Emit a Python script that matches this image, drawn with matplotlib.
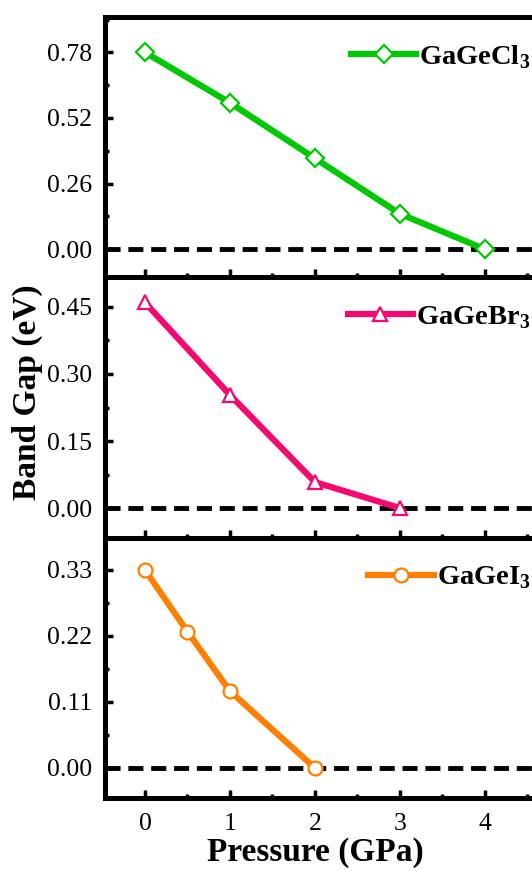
import matplotlib
matplotlib.use("Agg")
import matplotlib.pyplot as plt
from matplotlib.ticker import MultipleLocator, FixedLocator, FormatStrFormatter

# data
p_cl = [0, 1, 2, 3, 4]
gap_cl = [0.78, 0.58, 0.36, 0.14, 0.0]
p_br = [0, 1, 2, 3]
gap_br = [0.46, 0.253, 0.058, 0.0]
p_i = [0, 0.5, 1, 2]
gap_i = [0.33, 0.227, 0.128, 0.0]

labels = [r"GaGeCl$_\mathbf{3}$", r"GaGeBr$_\mathbf{3}$", r"GaGeI$_\mathbf{3}$"]
yticks = [[0.0, 0.26, 0.52, 0.78], [0.0, 0.15, 0.30, 0.45], [0.0, 0.11, 0.22, 0.33]]
xticks = [0, 1, 2, 3, 4]
ylims = [(-0.11, 0.92), (-0.067, 0.517), (-0.05, 0.383)]
colors = ["#00c800", "#f5096e", "#ff8000"]
markers = ["D", "^", "o"]
msizes = [9, 10.5, 10]

plt.rcParams["font.family"] = ["Liberation Serif", "DejaVu Serif"]
plt.rcParams["mathtext.fontset"] = "custom"
plt.rcParams["mathtext.rm"] = "Liberation Serif"
plt.rcParams["mathtext.bf"] = "Liberation Serif:bold"

W, H = 532, 874
fig = plt.figure(figsize=(W / 100, H / 100), dpi=100)

left, right = 105, 570
tops = [17, 277, 538]
bots = [277, 538, 798]
xs = [p_cl, p_br, p_i]
ys = [gap_cl, gap_br, gap_i]

axes = []
for k in range(3):
    ax = fig.add_axes([left / W, 1 - bots[k] / H, (right - left) / W, (bots[k] - tops[k]) / H])
    axes.append(ax)
    ax.axhline(0, color="black", lw=3.5, ls=(0, (3.1, 1.6)), zorder=1)
    ax.plot(xs[k], ys[k], color=colors[k], lw=4.5, marker=markers[k], ms=msizes[k],
            mfc="white", mec=colors[k], mew=1.6, label=labels[k], zorder=3)
    ax.set_xlim(-0.47, 5.0)
    ax.set_ylim(*ylims[k])
    ax.set_yticks(yticks[k])
    step = yticks[k][1] - yticks[k][0]
    ax.yaxis.set_minor_locator(MultipleLocator(step / 2))
    ax.yaxis.set_major_formatter(FormatStrFormatter("%.2f"))
    ax.xaxis.set_major_locator(FixedLocator(xticks))
    ax.xaxis.set_minor_locator(MultipleLocator(0.5))
    for s in ax.spines.values():
        s.set_linewidth(3.6)
    ax.tick_params(which="both", direction="in", width=2.5, top=False, right=False)
    ax.tick_params(which="major", length=6, labelsize=18.5)
    ax.tick_params(axis="y", pad=9)
    ax.tick_params(axis="x", pad=11)
    ax.tick_params(which="minor", length=3)
    if k < 2:
        ax.tick_params(axis="x", labelbottom=False)
    leg = ax.legend(loc="center right", bbox_to_anchor=(0.915, 0.846), frameon=False,
                    fontsize=20.5, handlelength=2.3, handletextpad=0.1,
                    borderpad=0, borderaxespad=0)
    for t in leg.get_texts():
        t.set_fontweight("bold")

fig.text(315 / W, 1 - 853 / H, "Pressure (GPa)", fontsize=24, fontweight="bold",
         ha="center", va="center")
fig.text(27 / W, 1 - 392 / H, "Band Gap (eV)", rotation=90, fontsize=24,
         fontweight="bold", ha="center", va="center")

fig.savefig("out.png", dpi=100)
